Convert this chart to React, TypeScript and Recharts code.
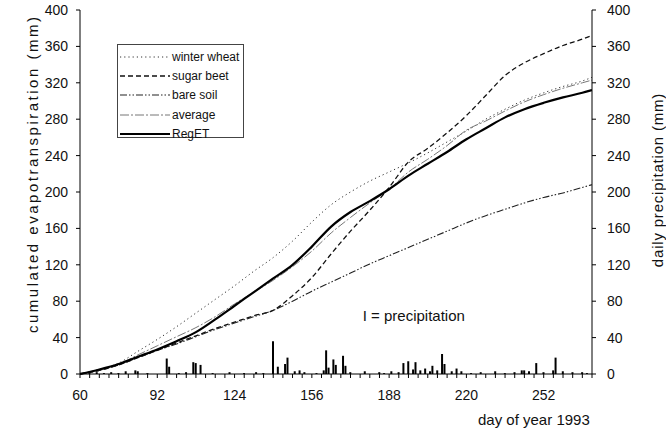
import React from "react";
import {
  ComposedChart,
  Line,
  Bar,
  XAxis,
  YAxis,
  Legend,
  Label,
  ReferenceDot,
} from "recharts";

const DAYS = [60, 68, 76, 84, 92, 100, 108, 116, 124, 132, 140, 148, 156, 164, 172, 180, 188, 196, 204, 212, 220, 228, 236, 244, 252, 260, 268, 272];

const WINTER_WHEAT = [0, 5, 12, 25, 38, 52, 67, 82, 97, 113, 128, 146, 167, 186, 200, 212, 222, 232, 243, 255, 267, 280, 291, 301, 309, 316, 322, 326];
const SUGAR_BEET   = [0, 4, 10, 18, 26, 34, 42, 50, 57, 64, 70, 86, 106, 132, 157, 180, 205, 233, 248, 265, 284, 306, 328, 342, 352, 361, 368, 372];
const BARE_SOIL    = [0, 4, 10, 18, 26, 33, 41, 49, 56, 63, 70, 80, 91, 101, 111, 121, 130, 139, 148, 157, 166, 174, 181, 188, 194, 199, 205, 208];
const AVERAGE      = [0, 5, 11, 21, 31, 41, 51, 63, 77, 90, 103, 118, 135, 155, 172, 188, 203, 222, 236, 251, 268, 278, 289, 299, 307, 314, 320, 323];
const REGET        = [0, 5, 11, 19, 27, 36, 46, 60, 75, 90, 105, 120, 140, 162, 178, 190, 203, 218, 231, 244, 258, 270, 282, 291, 298, 304, 309, 312];

// daily precipitation (mm)
const RAIN_DAYS = [64, 67, 70, 73, 76, 79, 83, 84, 88, 96, 97, 101, 104, 107, 108, 110, 115, 122, 128, 133, 136, 140, 142, 145, 146, 149, 151, 153, 158, 161, 162, 163, 165, 166, 169, 170, 172, 178, 184, 186, 189, 192, 194, 196, 198, 199, 201, 203, 205, 206, 208, 210, 211, 214, 216, 218, 222, 226, 232, 236, 240, 243, 244, 246, 249, 252, 256, 257, 260, 264, 268, 270];
const RAIN_MM   = [1, 2, 1, 2, 1, 3, 4, 3, 1, 17, 8, 1, 2, 13, 12, 10, 1, 2, 1, 2, 1, 36, 8, 11, 18, 3, 4, 2, 1, 4, 26, 7, 16, 10, 20, 9, 2, 3, 2, 1, 3, 2, 12, 14, 5, 13, 4, 6, 3, 9, 4, 22, 11, 3, 6, 3, 1, 2, 3, 1, 2, 4, 4, 3, 12, 2, 4, 18, 3, 2, 2, 1];

const Y_TICKS = [0, 40, 80, 120, 160, 200, 240, 280, 320, 360, 400];
const X_TICKS = Array.from({ length: 54 }, (_, i) => 60 + i * 4);

const FONT = "'Liberation Sans', Arial, sans-serif";

const SERIES = [
  { key: "ww", name: "winter wheat", values: WINTER_WHEAT, stroke: "#333", width: 1, dash: "1.2 3" },
  { key: "sb", name: "sugar beet", values: SUGAR_BEET, stroke: "#111", width: 1.3, dash: "5 3" },
  { key: "bs", name: "bare soil", values: BARE_SOIL, stroke: "#222", width: 1.1, dash: "7 2 1.5 2 1.5 2" },
  { key: "av", name: "average", values: AVERAGE, stroke: "#777", width: 1, dash: "9 2 2 2" },
  { key: "re", name: "RegET", values: REGET, stroke: "#000", width: 2.2, dash: undefined },
];

const rain = RAIN_DAYS.map((d, i) => ({ day: d, mm: RAIN_MM[i] }));

function LegendBox() {
  return (
    <div
      style={{
        width: 127,
        height: 94,
        border: "1px solid #444",
        fontFamily: FONT,
        fontSize: 12,
        color: "#111",
        paddingTop: 2,
        boxSizing: "border-box",
        whiteSpace: "nowrap",
      }}
    >
      {SERIES.map((s) => (
        <div key={s.key} style={{ display: "flex", alignItems: "center", height: 19.3 }}>
          <svg width={52} height={8} style={{ marginLeft: 2, flexShrink: 0 }}>
            <line x1={0} y1={4} x2={50} y2={4} stroke={s.stroke} strokeWidth={s.width} strokeDasharray={s.dash} />
          </svg>
          <span>{s.name}</span>
        </div>
      ))}
    </div>
  );
}

export default function App() {
  const tick = { fontSize: 14, fill: "#111", fontFamily: FONT };
  return (
    <div style={{ position: "absolute", left: 0, top: 0, background: "#fff" }}>
      <ComposedChart width={666} height={430} data={rain} margin={{ top: 10, right: 0, left: 0, bottom: 0 }}>
        <XAxis
          dataKey="day"
          type="number"
          domain={[60, 272]}
          allowDataOverflow
          ticks={X_TICKS}
          interval={0}
          tickFormatter={(d: number) => ((d - 60) % 32 === 0 && d <= 252 ? String(d) : "")}
          tick={tick}
          tickSize={4}
          tickMargin={12}
          height={56}
          stroke="#000"
        >
          <Label
            content={() => (
              <text x={478} y={425} fontSize={15} fontFamily={FONT} fill="#111">
                day of year 1993
              </text>
            )}
          />
        </XAxis>
        <YAxis
          yAxisId="left"
          domain={[0, 400]}
          ticks={Y_TICKS}
          interval={0}
          width={80}
          tick={tick}
          tickSize={4}
          tickMargin={8}
          stroke="#000"
        >
          <Label
            content={() => (
              <text
                x={38}
                y={333}
                transform="rotate(-90 38 333)"
                fontSize={15}
                letterSpacing={2.5}
                fontFamily={FONT}
                fill="#111"
              >
                cumulated evapotranspiration (mm)
              </text>
            )}
          />
        </YAxis>
        <YAxis
          yAxisId="right"
          orientation="right"
          domain={[0, 400]}
          ticks={Y_TICKS}
          interval={0}
          width={74}
          tick={tick}
          tickSize={4}
          tickMargin={11}
          stroke="#000"
        >
          <Label
            content={() => (
              <text
                x={663}
                y={180}
                transform="rotate(-90 663 180)"
                textAnchor="middle"
                fontSize={15}
                letterSpacing={0.8}
                fontFamily={FONT}
                fill="#111"
              >
                daily precipitation (mm)
              </text>
            )}
          />
        </YAxis>
        <Legend
          layout="vertical"
          align="center"
          verticalAlign="middle"
          content={() => <LegendBox />}
          wrapperStyle={{ position: "absolute", left: 117, top: 44, width: 127, height: 94 }}
        />
        <Bar yAxisId="right" dataKey="mm" fill="#000" barSize={2} isAnimationActive={false} legendType="none" />
        {SERIES.map((s) => (
          <Line
            key={s.key}
            yAxisId="left"
            data={DAYS.map((d, i) => ({ day: d, v: s.values[i] }))}
            dataKey="v"
            name={s.name}
            type="monotone"
            stroke={s.stroke}
            strokeWidth={s.width}
            strokeDasharray={s.dash}
            dot={false}
            activeDot={false}
            isAnimationActive={false}
          />
        ))}
        <ReferenceDot
          yAxisId="left"
          x={175}
          y={64}
          r={0}
          fill="none"
          stroke="none"
          label={{ value: "I = precipitation", position: "right", fontSize: 15, fill: "#111", fontFamily: FONT }}
        />
      </ComposedChart>
    </div>
  );
}
